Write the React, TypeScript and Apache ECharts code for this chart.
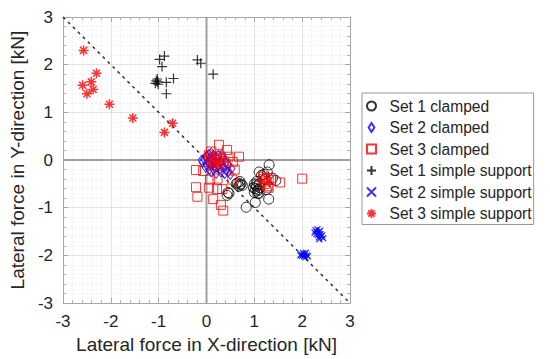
import React, { useEffect, useRef } from "react";
import * as echarts from "echarts";

const axisTicks = [-3, -2, -1, 0, 1, 2, 3];

const set1Clamped: number[][] = [
  [0.65, -0.48], [0.7, -0.52], [0.72, -0.5], [0.68, -0.55], [0.75, -0.53], [0.62, -0.5], [0.7, -0.45],
  [0.45, -0.68], [0.43, -0.74], [0.47, -0.7],
  [1.0, -0.5], [1.05, -0.55], [1.02, -0.6], [1.08, -0.62], [1.1, -0.5], [1.05, -0.45], [0.98, -0.58],
  [1.12, -0.58], [1.0, -0.68], [1.07, -0.7], [1.1, -0.7], [1.03, -0.52], [1.06, -0.65],
  [1.1, -0.25], [1.2, -0.3], [1.27, -0.25], [1.15, -0.32], [1.31, -0.1], [1.45, -0.43], [1.38, -0.38],
  [0.83, -0.99], [1.02, -0.89], [1.3, -0.82], [1.25, -0.62], [1.22, -0.4],
];

const set2Clamped: number[][] = [
  [-0.05, 0.02], [0.0, 0.08], [0.05, 0.12], [0.1, 0.15], [0.15, 0.1], [0.2, 0.05], [-0.1, 0.0],
  [-0.08, -0.05], [0.0, -0.1], [0.05, -0.05], [0.1, -0.12], [0.15, -0.2], [0.2, -0.15], [0.25, -0.1],
  [0.3, -0.05], [0.35, -0.15], [0.4, -0.2], [0.45, -0.25], [0.5, -0.3], [0.3, -0.25], [0.2, -0.28],
  [0.1, -0.25], [0.25, 0.1], [0.35, 0.05], [0.4, -0.05], [0.45, -0.1], [0.12, 0.0], [0.18, -0.05],
  [0.08, 0.05], [0.28, -0.18], [0.38, -0.28], [0.52, -0.18], [-0.02, -0.15], [0.06, -0.2], [0.33, 0.12],
];

const set3Clamped: number[][] = [
  [0.1, 0.05], [0.15, -0.05], [0.2, 0.0], [0.12, -0.1], [0.18, -0.12], [0.25, -0.05], [0.08, -0.02],
  [0.22, 0.08], [0.3, -0.12], [0.35, -0.02], [0.05, 0.1], [0.28, 0.02], [0.4, -0.08], [0.15, 0.05],
  [0.26, 0.32], [0.43, 0.21], [0.1, 0.18], [0.68, 0.07], [0.46, 0.07], [0.55, -0.04], [0.59, -0.2],
  [-0.22, -0.21], [-0.07, -0.23], [0.07, -0.41], [0.23, -0.39], [0.54, -0.41], [-0.22, -0.57],
  [0.05, -0.58], [0.22, -0.61], [0.33, -0.61], [-0.19, -0.77], [0.14, -0.82], [0.3, -0.94], [0.35, -1.06],
  [1.2, -0.4], [1.25, -0.45], [1.3, -0.38], [1.22, -0.5], [1.35, -0.42], [1.28, -0.55], [1.18, -0.35],
  [1.3, -0.58], [1.54, -0.47], [2.0, -0.39],
];

const set1Simple: number[][] = [
  [-0.98, 2.11], [-0.88, 2.18], [-0.93, 1.96], [-0.19, 2.1], [-0.12, 2.03], [0.14, 1.8],
  [-1.03, 1.7], [-1.07, 1.61], [-1.01, 1.59], [-0.84, 1.63], [-0.69, 1.71], [-0.84, 1.39],
  [-1.02, 1.64], [-1.05, 1.66],
];

const set2Simple: number[][] = [
  [2.28, -1.47], [2.32, -1.45], [2.35, -1.5], [2.3, -1.55], [2.38, -1.55], [2.4, -1.6], [2.42, -1.58],
  [2.35, -1.62], [2.3, -1.5], [2.26, -1.52], [2.38, -1.48], [2.44, -1.64], [2.36, -1.66], [2.33, -1.57],
  [1.98, -1.98], [2.02, -1.95], [2.06, -1.97], [2.1, -2.0], [2.04, -2.02], [2.0, -2.01], [2.08, -1.94],
  [2.12, -2.02], [2.03, -1.99], [2.07, -2.04], [1.96, -2.0],
];

const set3Simple: number[][] = [
  [-2.57, 2.3], [-2.3, 1.82], [-2.41, 1.64], [-2.59, 1.57], [-2.37, 1.48], [-2.5, 1.39],
  [-2.03, 1.17], [-1.54, 0.88], [-0.71, 0.77], [-0.88, 0.58],
];

const diagonal = [[-3, 3], [3, -3]];
const zeroH = [[-3, 0], [3, 0]];
const zeroV = [[0, -3], [0, 3]];

const names = [
  "Set 1 clamped",
  "Set 2 clamped",
  "Set 3 clamped",
  "Set 1 simple support",
  "Set 2 simple support",
  "Set 3 simple support",
];

const CIRCLE = "path://M10,5A5,5,0,1,1,0,5A5,5,0,1,1,10,5Z";
const DIAMOND = "path://M3.5,0L7,5.5L3.5,11L0,5.5Z";
const SQUARE = "path://M0,0L10,0L10,10L0,10Z";
const PLUS = "path://M5,0L5,10M0,5L10,5";
const CROSS = "path://M0,0L10,10M10,0L0,10";
const STAR = "path://M5,0L5,10M0,5L10,5M1.5,1.5L8.5,8.5M8.5,1.5L1.5,8.5";
const icons = [CIRCLE, DIAMOND, SQUARE, PLUS, CROSS, STAR];
const CLEAR = "rgba(0,0,0,0)";
const FONT = "'Liberation Sans', Arial, sans-serif";

export default function App() {
  const ref = useRef<HTMLDivElement>(null);
  useEffect(() => {
    if (!ref.current) return;
    const chart = echarts.init(ref.current, undefined, { renderer: "svg" });
    const baseAxis = {
      type: "value" as const,
      min: -3,
      max: 3,
      interval: 1,
      axisLine: { show: true, onZero: false, lineStyle: { color: "#a6a6a6", width: 1 } },
      axisTick: { show: true, inside: true, length: 5, lineStyle: { color: "#a6a6a6" } },
      minorTick: { show: true, splitNumber: 5, length: 3, lineStyle: { color: "#b0b0b0" } },
      splitLine: { show: true, lineStyle: { color: "#e3e3e3", width: 1 } },
      minorSplitLine: { show: true, lineStyle: { color: "#efefef", width: 1, type: [2, 2] } },
      axisLabel: { color: "#262626", fontSize: 17, fontFamily: FONT, margin: 10 },
      nameLocation: "middle" as const,
      nameTextStyle: { color: "#262626", fontSize: 19, fontFamily: FONT },
    };
    const secondary = {
      type: "value" as const,
      min: -3,
      max: 3,
      interval: 1,
      axisLine: { show: true, onZero: false, lineStyle: { color: "#a6a6a6", width: 1 } },
      axisTick: { show: true, inside: true, length: 5, lineStyle: { color: "#a6a6a6" } },
      minorTick: { show: true, splitNumber: 5, length: 3, lineStyle: { color: "#b0b0b0" } },
      splitLine: { show: false },
      axisLabel: { show: false },
    };
    chart.setOption({
      animation: false,
      backgroundColor: "#ffffff",
      grid: { left: 62, right: 200, top: 17, bottom: 53 },
      xAxis: [
        { ...baseAxis, position: "bottom", name: "Lateral force in X-direction [kN]", nameGap: 27 },
        { ...secondary, position: "top" },
      ],
      yAxis: [
        { ...baseAxis, position: "left", name: "Lateral force in Y-direction [kN]", nameGap: 27 },
        { ...secondary, position: "right" },
      ],
      legend: {
        data: names.map((n, i) => ({ name: n, icon: icons[i] })),
        orient: "vertical",
        left: 362,
        top: 93,
        padding: [5, 2, 3, 4],
        itemWidth: 26,
        itemHeight: 9,
        itemGap: 5.5,
        symbolKeepAspect: true,
        backgroundColor: "#ffffff",
        borderColor: "#999999",
        borderWidth: 1,
        textStyle: { color: "#262626", fontSize: 15.6, fontFamily: FONT, lineHeight: 16 },
      },
      series: [
        {
          type: "line", data: zeroH, symbol: "none", silent: true,
          lineStyle: { color: "#a0a0a0", width: 2 }, z: 1,
        },
        {
          type: "line", data: zeroV, symbol: "none", silent: true,
          lineStyle: { color: "#a0a0a0", width: 2 }, z: 1,
        },
        {
          type: "line", data: diagonal, symbol: "none", silent: true,
          lineStyle: { color: "#333333", width: 1.5, type: [3, 4] }, z: 2,
        },
        {
          name: names[0], type: "scatter", data: set1Clamped, symbol: "circle", symbolSize: 10,
          itemStyle: { color: CLEAR, borderColor: "#000000", borderWidth: 1 }, z: 3,
        },
        {
          name: names[1], type: "scatter", data: set2Clamped, symbol: "diamond", symbolSize: [7, 10],
          itemStyle: { color: CLEAR, borderColor: "#0000ff", borderWidth: 1 }, z: 3,
        },
        {
          name: names[2], type: "scatter", data: set3Clamped, symbol: "rect", symbolSize: 9,
          itemStyle: { color: CLEAR, borderColor: "#ff0000", borderWidth: 1 }, z: 3,
        },
        {
          name: names[3], type: "scatter", data: set1Simple, symbol: PLUS, symbolSize: 10,
          itemStyle: { color: CLEAR, borderColor: "#000000", borderWidth: 1.2 }, z: 3,
        },
        {
          name: names[4], type: "scatter", data: set2Simple, symbol: CROSS, symbolSize: 6,
          itemStyle: { color: CLEAR, borderColor: "#0000ff", borderWidth: 1.2 }, z: 3,
        },
        {
          name: names[5], type: "scatter", data: set3Simple, symbol: STAR, symbolSize: 10,
          itemStyle: { color: CLEAR, borderColor: "#ff0000", borderWidth: 1.5 }, z: 3,
        },
      ],
    });
    return () => chart.dispose();
  }, []);
  return <div ref={ref} style={{ width: 550, height: 359, position: "absolute", left: 0, top: 0 }} />;
}
